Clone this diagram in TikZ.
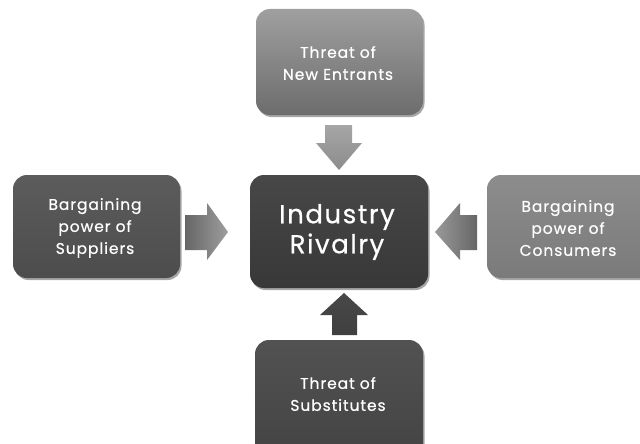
\documentclass[tikz,border=0pt]{standalone}
\usepackage{fontspec}
\setmainfont{Poppins}[LetterSpace=6, FakeBold=0.6]
\usetikzlibrary{shadows}
\tikzset{
  force/.style={rounded corners=14pt,
    drop shadow={shadow xshift=1.5pt, shadow yshift=-2pt, opacity=0.35, fill=black}},
  label/.style={text=white, align=center, font=\fontsize{15.5}{22}\selectfont},
  biglabel/.style={text=white, align=center, font=\fontsize{26}{30}\selectfont},
  blockarrow/.style={draw=none}
}
\begin{document}
\begin{tikzpicture}[x=1pt,y=-1pt]
\useasboundingbox (0,0) rectangle (640,444);
\clip (0,0) rectangle (640,444);
% boxes
\path[force, top color=gray!75, bottom color=gray!85!black] (256,9) rectangle (423,115);
\node[label] (top) at (338,63) {Threat of\\New Entrants};
\path[force, top color=black!72, bottom color=black!78] (250,175) rectangle (428,288);
\node[biglabel] (mid) at (337,232) {Industry\\Rivalry};
\path[force, top color=black!64, bottom color=black!70] (13,175) rectangle (180,278);
\node[label] (left) at (95,228) {Bargaining\\power of\\Suppliers};
\path[force, top color=black!45, bottom color=black!52] (487,175) rectangle (660,278);
\node[label] (right) at (568,228) {Bargaining\\power of\\Consumers};
\path[force, top color=black!68, bottom color=black!74] (255,340) rectangle (423,470);
\node[label] (bot) at (338,394) {Threat of\\Substitutes};
% block arrows
\path[blockarrow, top color=black!35, bottom color=black!45]
  (325,125) -- (352,125) -- (352,143) -- (362,143) -- (339,170) -- (316,143) -- (325,143) -- cycle;
\path[blockarrow, left color=black!60, right color=black!38]
  (185,215) -- (207,215) -- (207,203) -- (228,232) -- (207,260) -- (207,250) -- (185,250) -- cycle;
\path[blockarrow, left color=black!40, right color=black!60]
  (477,215) -- (460,215) -- (460,203) -- (435,232) -- (460,260) -- (460,250) -- (477,250) -- cycle;
\path[blockarrow, top color=black!72, bottom color=black!75]
  (332,335) -- (357,335) -- (357,315) -- (368,315) -- (344,293) -- (320,315) -- (332,315) -- cycle;
\end{tikzpicture}
\end{document}
